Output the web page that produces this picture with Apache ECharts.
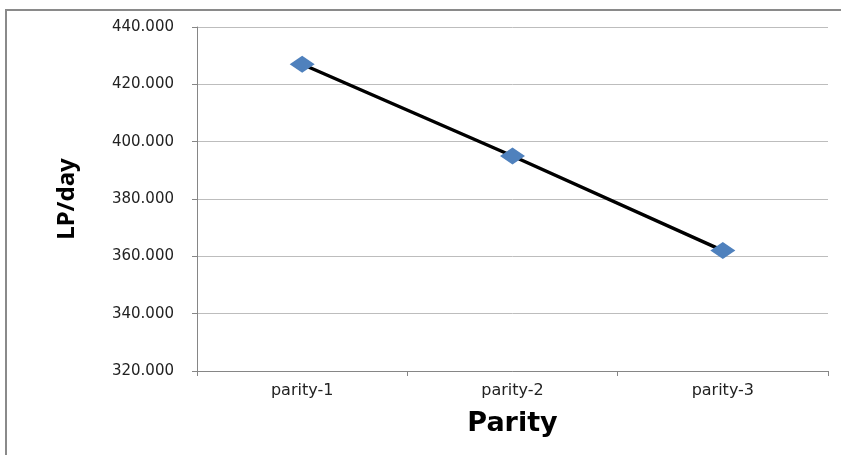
<!DOCTYPE html>
<html>
<head>
<meta charset="utf-8">
<script src="https://cdn.jsdelivr.net/npm/echarts@6/dist/echarts.min.js"></script>
<style>
html,body{margin:0;padding:0;background:#fff;}
#c{width:841px;height:455px;}
</style>
</head>
<body>
<div id="c"></div>
<script>
var categories = ['parity-1', 'parity-2', 'parity-3'];
var lpPerDay = [427, 395, 362];
var yMin = 320, yMax = 440, yStep = 20;

var chart = echarts.init(document.getElementById('c'));
chart.setOption({
  animation: false,
  backgroundColor: '#fff',
  graphic: [{
    type: 'rect',
    shape: { x: 6, y: 10, width: 850, height: 460 },
    style: { fill: 'none', stroke: '#8a8a8a', lineWidth: 2 },
    silent: true
  }],
  grid: { left: 197, right: 13, top: 27, bottom: 84 },
  xAxis: {
    type: 'category',
    data: categories,
    boundaryGap: true,
    name: 'Parity',
    nameLocation: 'middle',
    nameGap: 39,
    nameTextStyle: { fontFamily: '"DejaVu Sans", sans-serif', fontWeight: 'bold', fontSize: 27, color: '#000' },
    axisLine: { lineStyle: { color: '#868686', width: 1 } },
    axisTick: { show: true, alignWithLabel: false, length: 5, lineStyle: { color: '#868686' } },
    axisLabel: { fontFamily: '"DejaVu Sans", sans-serif', fontSize: 16, color: '#222', margin: 12 },
    splitLine: { show: false }
  },
  yAxis: {
    type: 'value',
    min: yMin,
    max: yMax,
    interval: yStep,
    name: 'LP/day',
    nameLocation: 'middle',
    nameRotate: 90,
    nameGap: 118,
    nameTextStyle: { fontFamily: '"Noto Sans", sans-serif', fontWeight: 'bold', fontSize: 24, color: '#000' },
    axisLine: { show: true, lineStyle: { color: '#868686', width: 1 } },
    axisTick: { show: true, length: 5, lineStyle: { color: '#868686' } },
    axisLabel: {
      fontFamily: '"DejaVu Sans", sans-serif', fontSize: 15, color: '#222', margin: 23,
      formatter: function (v) { return v.toFixed(3); }
    },
    splitLine: { show: true, lineStyle: { color: '#bdbdbd', width: 1 } }
  },
  series: [{
    type: 'line',
    data: lpPerDay,
    symbol: 'diamond',
    symbolSize: [25, 17],
    itemStyle: { color: '#4f81bd' },
    lineStyle: { color: '#000', width: 3.5 },
    z: 3
  }]
});
</script>
</body>
</html>
